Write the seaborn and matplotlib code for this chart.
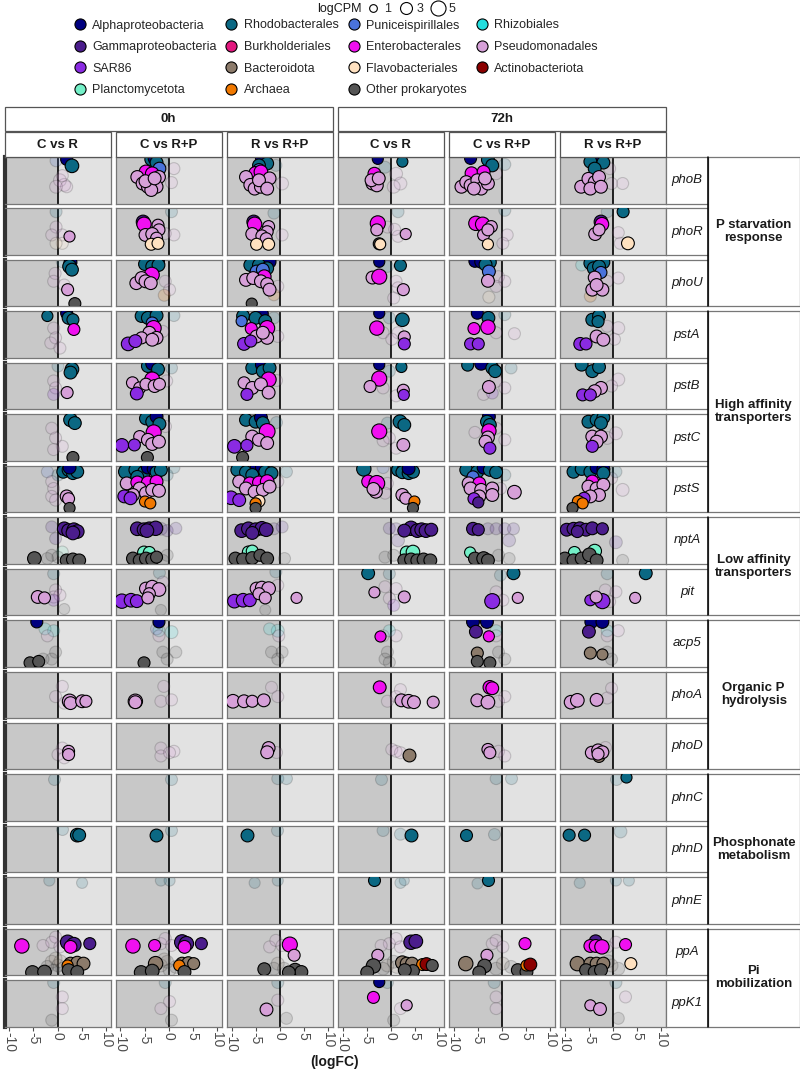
import matplotlib
matplotlib.use("Agg")
import matplotlib.pyplot as plt
import seaborn as sns
import pandas as pd
from matplotlib.patches import Rectangle
from matplotlib.lines import Line2D

# taxonomic groups (code -> legend name) and colours
taxa = {"A": "Alphaproteobacteria", "Rh": "Rhodobacterales", "Pu": "Puniceispirillales",
        "Rz": "Rhizobiales", "G": "Gammaproteobacteria", "B": "Burkholderiales",
        "E": "Enterobacterales", "Ps": "Pseudomonadales", "S": "SAR86",
        "Bd": "Bacteroidota", "F": "Flavobacteriales", "Ac": "Actinobacteriota",
        "Pl": "Planctomycetota", "Ar": "Archaea", "O": "Other prokaryotes"}
colors = {"A": "#00007f", "Rh": "#0b6883", "Pu": "#4a73db", "Rz": "#22dede",
          "G": "#4b1d8c", "B": "#e2177e", "E": "#f010f0", "Ps": "#d6a0d8",
          "S": "#8a2be2", "Bd": "#8c7b6b", "F": "#ffe1c0", "Ac": "#8b0000",
          "Pl": "#74f0c8", "Ar": "#f07800", "O": "#555555"}
legend_order = ["A", "Rh", "Pu", "Rz", "G", "B", "E", "Ps", "S", "Bd", "F", "Ac", "Pl", "Ar", "O"]

times = ["0h", "72h"]
contrasts = ["C vs R", "C vs R+P", "R vs R+P"]
genes = ["phoB", "phoR", "phoU", "pstA", "pstB", "pstC", "pstS", "nptA", "pit",
         "acp5", "phoA", "phoD", "phnC", "phnD", "phnE", "ppA", "ppK1"]
groups = [("P starvation\nresponse", 0, 2), ("High affinity\ntransporters", 3, 6),
          ("Low affinity\ntransporters", 7, 8), ("Organic P\nhydrolysis", 9, 11),
          ("Phosphonate\nmetabolism", 12, 14), ("Pi\nmobilization", 15, 16)]
cpm_legend = [1, 3, 5]

# points: (panel column, taxon, logFC, taxon-jitter y, logCPM, significant)
phoB = [
    (0, "A", 1.9, .05, 3, 1), (0, "Rh", 3.0, .19, 4, 1),
    (0, "Pu", -0.3, .08, 3, 0), (0, "Ps", 0.5, .5, 3.5, 0), (0, "Ps", 1.4, .6, 3.5, 0),
    (0, "Ps", -0.3, .64, 3.5, 0), (0, "Ps", 1.0, .4, 3, 0), (0, "Ps", 1.9, .64, 3, 0),
    (1, "Rh", -3.6, .05, 3.5, 1), (1, "A", -2.9, .03, 3.5, 1), (1, "Rh", -2.5, .12, 3.5, 1),
    (1, "Pu", -1.9, .25, 3.5, 1), (1, "E", -4.7, .32, 4, 1), (1, "E", -3.4, .36, 4, 1),
    (1, "Ps", -6.5, .43, 3.5, 1), (1, "Ps", -5.4, .57, 3.5, 1), (1, "Ps", -4.3, .64, 3.5, 1),
    (1, "Ps", -3.1, .54, 3.5, 1), (1, "Ps", -2.0, .43, 3.5, 1), (1, "Ps", -2.5, .64, 3.5, 1),
    (1, "Ps", -3.6, .71, 3.5, 1), (1, "Ps", -4.8, .52, 3.5, 1), (1, "Ps", -2.9, .46, 3.5, 1),
    (1, "Rh", -1.2, .1, 3, 0), (1, "Ps", 1.1, .25, 3, 0), (1, "Ps", 0.6, .55, 3, 0),
    (2, "A", -3.7, .03, 3.5, 1), (2, "Rh", -2.6, .14, 3.5, 1), (2, "Rh", -4.3, .18, 3.5, 1),
    (2, "Pu", -4.3, .28, 3.5, 1), (2, "E", -5.0, .35, 4, 1), (2, "E", -3.9, .32, 4, 1),
    (2, "Ps", -7.0, .43, 3.5, 1), (2, "Ps", -6.1, .6, 3.5, 1), (2, "Ps", -5.2, .68, 3.5, 1),
    (2, "Ps", -3.9, .64, 3.5, 1), (2, "Ps", -3.0, .54, 3.5, 1), (2, "Ps", -2.1, .46, 3.5, 1),
    (2, "Ps", -4.3, .5, 3.5, 1), (2, "Ps", -2.6, .68, 3.5, 1),
    (2, "Ps", 0.5, .57, 3.5, 0), (2, "Rh", -0.8, .18, 3, 0),
    (3, "A", -2.7, .04, 2.5, 1), (3, "Rh", 2.4, .1, 2.5, 1), (3, "E", -3.4, .36, 3.5, 1),
    (3, "Ps", -3.8, .57, 3.5, 1), (3, "Ps", -2.9, .61, 3.5, 1), (3, "Ps", -4.0, .5, 3.5, 1),
    (3, "Ps", -2.5, .46, 3.5, 1),
    (3, "Rh", -1.2, .22, 3, 0), (3, "Ps", 1.1, .36, 3.5, 0), (3, "Ps", 2.0, .57, 3.5, 0),
    (3, "Ps", 0.6, .64, 3.5, 0),
    (4, "A", -6.5, .03, 3, 1), (4, "Rh", -2.9, .06, 3.5, 1), (4, "Rh", -2.0, .18, 3.5, 1),
    (4, "E", -6.3, .35, 3.5, 1), (4, "E", -3.8, .32, 3.5, 1), (4, "Ps", -8.4, .64, 3.5, 1),
    (4, "Ps", -7.4, .54, 3.5, 1), (4, "Ps", -6.5, .61, 3.5, 1), (4, "Ps", -5.1, .5, 3.5, 1),
    (4, "Ps", -4.3, .68, 3.5, 1), (4, "Ps", -2.9, .57, 3.5, 1), (4, "Ps", -3.5, .46, 3.5, 1),
    (4, "Ps", -5.8, .68, 3.5, 1),
    (4, "Rh", 0.6, .16, 3, 0), (4, "Ps", -1.2, .36, 3, 0),
    (5, "A", -3.4, .05, 3.5, 1), (5, "Rh", -4.7, .1, 3.5, 1), (5, "Rh", -2.0, .12, 3.5, 1),
    (5, "Rh", -3.8, .25, 3.5, 1), (5, "Ps", -6.6, .64, 3.5, 1), (5, "Ps", -5.1, .47, 3.5, 1),
    (5, "Ps", -3.8, .54, 3.5, 1), (5, "Ps", -2.9, .43, 3.5, 1), (5, "Ps", -4.7, .68, 3.5, 1),
    (5, "Ps", -2.5, .64, 3.5, 1),
    (5, "Ps", 2.0, .57, 3, 0), (5, "Ps", -0.7, .25, 3, 0), (5, "Ps", -0.3, .57, 3, 0),
]
phoR = [
    (0, "Ps", 2.3, .6, 2.5, 1),
    (0, "Rh", -0.3, .07, 3, 0), (0, "Ps", -0.3, .4, 3, 0), (0, "Ps", -1.2, .57, 3, 0),
    (0, "Ps", 1.0, .57, 3, 0), (0, "F", 1.0, .75, 3, 0), (0, "F", -0.3, .75, 3, 0),
    (1, "G", -5.3, .29, 4, 1), (1, "E", -5.1, .34, 4.5, 1), (1, "Ps", -2.2, .36, 3, 1),
    (1, "Ps", -2.0, .46, 3, 1), (1, "Ps", -4.8, .57, 3.5, 1), (1, "Ps", -3.4, .55, 3.5, 1),
    (1, "Ps", -2.5, .64, 3, 1), (1, "F", -3.6, .77, 3, 1), (1, "F", -2.2, .75, 3, 1),
    (1, "Rh", 0.6, .07, 3, 0), (1, "Ps", 1.1, .57, 3, 0), (1, "Ps", -0.7, .54, 3, 0),
    (2, "G", -5.4, .29, 4, 1), (2, "E", -5.2, .34, 4.5, 1), (2, "Ps", -2.3, .39, 3, 1),
    (2, "Ps", -2.6, .5, 3, 1), (2, "Ps", -5.7, .55, 3.5, 1), (2, "Ps", -3.7, .59, 3, 1),
    (2, "Ps", -2.8, .65, 3, 1), (2, "F", -4.8, .77, 3, 1), (2, "F", -2.3, .77, 3, 1),
    (2, "Rh", -1.2, .1, 3, 0), (2, "Ps", 0.5, .57, 3, 0),
    (3, "E", -2.7, .32, 5, 1), (3, "Ps", -2.9, .46, 3, 1), (3, "O", -2.4, .76, 3, 1),
    (3, "F", -2.2, .77, 2.5, 1), (3, "Ps", 3.1, .55, 2.5, 1),
    (3, "Rh", 1.5, .07, 3, 0), (3, "Ps", -0.7, .4, 3, 0), (3, "Ps", 1.5, .6, 3, 0),
    (3, "Ps", 0.8, .45, 3, 0),
    (4, "E", -5.4, .32, 4.5, 1), (4, "E", -4.0, .34, 4.5, 1), (4, "Ps", -2.2, .39, 3, 1),
    (4, "Ps", -3.8, .57, 3, 1), (4, "Ps", -2.9, .46, 3, 1), (4, "F", -2.9, .77, 2.5, 1),
    (4, "Rh", 0.6, .04, 3, 0), (4, "Ps", 1.1, .57, 3, 0), (4, "Ps", 0.2, .75, 3, 0),
    (5, "Rh", 2.1, .07, 3, 1), (5, "G", -2.5, .29, 4, 1), (5, "E", -2.3, .34, 4, 1),
    (5, "Ps", -3.7, .55, 3.5, 1), (5, "Ps", -2.9, .46, 3, 1), (5, "F", 3.1, .75, 3.5, 1),
    (5, "Rh", -1.2, .07, 3, 0), (5, "Ps", 1.1, .52, 3, 0), (5, "Ps", 1.5, .75, 3, 0),
]
phoU = [
    (0, "A", 2.7, .05, 3.5, 1), (0, "Rh", 2.5, .14, 4, 1), (0, "Rh", 3.0, .21, 3.5, 1),
    (0, "Ps", 2.1, .64, 3, 1), (0, "O", 3.6, .94, 3, 1),
    (0, "Rh", 1.0, .04, 3, 0), (0, "Ps", -0.5, .29, 3, 0), (0, "Ps", -0.8, .46, 3, 0),
    (0, "Ps", 1.4, .54, 3, 0),
    (1, "Rh", -4.9, .09, 3.5, 1), (1, "A", -2.2, .04, 3.5, 1), (1, "Rh", -3.4, .14, 3.5, 1),
    (1, "Rh", -2.1, .11, 3.5, 1), (1, "E", -3.5, .32, 5, 1), (1, "Ps", -6.7, .5, 3.5, 1),
    (1, "Ps", -5.6, .39, 3.5, 1), (1, "Ps", -4.8, .46, 3.5, 1), (1, "Ps", -3.7, .5, 3.5, 1),
    (1, "Ps", 0.2, .64, 3, 0), (1, "Ps", -0.7, .46, 3, 0), (1, "Ar", -0.9, .76, 3, 0),
    (2, "A", -5.2, .04, 3.5, 1), (2, "A", -2.1, .04, 3.5, 1), (2, "Rh", -6.1, .11, 3.5, 1),
    (2, "Rh", -4.3, .11, 3.5, 1), (2, "Rh", -2.6, .18, 3.5, 1), (2, "Pu", -4.8, .25, 3.5, 1),
    (2, "Pu", -3.5, .21, 3.5, 1), (2, "E", -3.2, .36, 4, 1), (2, "Ps", -7.0, .43, 3.5, 1),
    (2, "Ps", -5.5, .39, 3.5, 1), (2, "Ps", -3.9, .46, 3.5, 1), (2, "Ps", -2.6, .52, 3.5, 1),
    (2, "Ps", -2.1, .64, 3.5, 1), (2, "O", -5.8, .94, 2.5, 1),
    (2, "Ps", -0.4, .57, 3, 0), (2, "Ar", -1.2, .75, 3, 0),
    (3, "A", -2.4, .04, 2.5, 1), (3, "Rh", 2.0, .12, 3, 1), (3, "Ps", -3.8, .38, 3.5, 1),
    (3, "E", -2.4, .36, 5, 1), (3, "Ps", 2.6, .64, 3, 1),
    (3, "Rh", -0.7, .14, 3, 0), (3, "Ps", 1.1, .46, 3, 0), (3, "Ps", 1.5, .6, 3, 0),
    (3, "Ps", 0.6, .82, 3, 0),
    (4, "A", -5.6, .03, 3, 1), (4, "A", -4.3, .04, 3.5, 1), (4, "Rh", -2.5, .05, 3.5, 1),
    (4, "Rh", -3.4, .1, 3.5, 1), (4, "Pu", -2.7, .25, 3.5, 1), (4, "Ps", -2.9, .45, 3.5, 1),
    (4, "Ps", -0.7, .36, 3, 0), (4, "Ps", 0.6, .46, 3, 0), (4, "Ps", -1.2, .57, 3, 0),
    (4, "F", -2.7, .8, 3, 0),
    (5, "A", -3.4, .03, 3.5, 1), (5, "Rh", -4.7, .07, 3.5, 1), (5, "Rh", -2.0, .05, 3.5, 1),
    (5, "Rh", -4.0, .18, 3.5, 1), (5, "Rh", -2.9, .14, 3.5, 1), (5, "Pu", -2.5, .27, 3, 1),
    (5, "Ps", -3.8, .38, 3.5, 1), (5, "Ps", -4.3, .64, 3.5, 1), (5, "Ps", -2.2, .64, 3.5, 1),
    (5, "Ps", -3.4, .54, 3.5, 1),
    (5, "Rz", -6.5, .11, 3, 0), (5, "Ps", 1.1, .39, 3, 0), (5, "Ps", -1.2, .46, 3, 0),
    (5, "Ar", -4.7, .78, 3, 0),
]
pstA = [
    (0, "Rh", -2.1, .1, 2.5, 1), (0, "A", 1.9, .04, 3, 1), (0, "Rh", 2.3, .14, 3.5, 1),
    (0, "Rh", 3.2, .18, 3, 1), (0, "E", 3.4, .39, 3, 1),
    (0, "Ps", -0.8, .36, 3, 0), (0, "Ps", -1.4, .68, 3, 0), (0, "Ps", -0.4, .57, 3, 0),
    (0, "Ps", 0.5, .79, 3, 0),
    (1, "Rh", -5.6, .1, 3.5, 1), (1, "A", -3.4, .05, 3.5, 1), (1, "Rh", -4.3, .14, 3.5, 1),
    (1, "Rh", -2.5, .09, 3.5, 1), (1, "Pu", -3.4, .25, 3, 1), (1, "E", -3.1, .36, 5, 1),
    (1, "Ps", -4.0, .46, 3.5, 1), (1, "Ps", -2.5, .57, 3.5, 1), (1, "Ps", -5.6, .57, 3, 1),
    (1, "Ps", -3.4, .61, 3.5, 1), (1, "S", -8.4, .7, 4, 1), (1, "S", -6.9, .64, 3.5, 1),
    (1, "Rh", 1.1, .09, 3, 0), (1, "Ps", -1.2, .43, 3, 0),
    (2, "Rh", -7.6, .1, 3.5, 1), (2, "A", -3.7, .05, 3.5, 1), (2, "Rh", -5.0, .14, 3.5, 1),
    (2, "Rh", -3.0, .21, 3.5, 1), (2, "Pu", -7.9, .21, 2.5, 1), (2, "E", -5.9, .37, 3, 1),
    (2, "E", -2.6, .36, 5, 1), (2, "Ps", -4.8, .54, 3.5, 1), (2, "Ps", -2.6, .57, 3.5, 1),
    (2, "Ps", -3.5, .46, 3.5, 1), (2, "S", -7.4, .7, 3.5, 1), (2, "S", -6.0, .64, 3, 1),
    (2, "Rh", -1.2, .14, 3, 0), (2, "Ps", -0.4, .54, 3, 0),
    (3, "A", -2.4, .04, 2.5, 1), (3, "Rh", 2.4, .18, 4, 1), (3, "E", -2.9, .36, 4.5, 1),
    (3, "Ps", 2.8, .55, 3, 1), (3, "S", 2.8, .7, 3, 1),
    (3, "Rh", -0.3, .14, 3, 0), (3, "Ps", -1.6, .46, 3, 0), (3, "Ps", 1.5, .46, 3, 0),
    (3, "Ps", 0.2, .6, 3, 0),
    (4, "A", -5.1, .04, 3, 1), (4, "Rh", -2.8, .14, 3.5, 1), (4, "E", -5.8, .37, 3, 1),
    (4, "E", -2.9, .34, 4.5, 1), (4, "S", -6.5, .7, 3, 1), (4, "S", -4.9, .7, 3, 1),
    (4, "Ps", 2.6, .48, 3, 0), (4, "Ps", -1.2, .46, 3, 0), (4, "Rh", 0.6, .07, 3, 0),
    (5, "Rh", -4.3, .18, 3.5, 1), (5, "Rh", -2.9, .1, 3.5, 1), (5, "Rh", -3.1, .22, 3, 1),
    (5, "Ps", -3.4, .54, 3.5, 1), (5, "Ps", -2.0, .61, 3.5, 1), (5, "S", -6.8, .7, 3.5, 1),
    (5, "S", -5.6, .7, 3, 1),
    (5, "Ps", 1.1, .36, 3.5, 0), (5, "Ps", -1.2, .32, 3, 0), (5, "Ps", 0.3, .6, 3, 0),
]
pstB = [
    (0, "Rh", 3.0, .14, 4, 1), (0, "Rh", 2.7, .21, 3.5, 1), (0, "Ps", 2.0, .64, 3, 1),
    (0, "Rh", 0.1, .07, 3, 0), (0, "Ps", -0.8, .39, 3, 0), (0, "Ps", -0.4, .54, 3, 0),
    (0, "S", -0.8, .68, 3, 0),
    (1, "Rh", -4.3, .07, 3.5, 1), (1, "A", -3.4, .02, 3.5, 1), (1, "Rh", -2.2, .14, 3.5, 1),
    (1, "E", -3.4, .36, 5, 1), (1, "Ps", -7.5, .43, 3, 1), (1, "Ps", -6.0, .54, 3, 1),
    (1, "Ps", -4.7, .46, 3, 1), (1, "Ps", -2.9, .5, 3.5, 1), (1, "Ps", -1.9, .46, 3, 1),
    (1, "S", -6.6, .66, 3.5, 1),
    (1, "Rh", 0.6, .11, 3, 0), (1, "Ps", -0.4, .39, 3, 0),
    (2, "Rh", -5.7, .11, 3.5, 1), (2, "A", -3.7, .04, 3.5, 1), (2, "Rh", -3.5, .18, 3.5, 1),
    (2, "Rh", -2.1, .11, 3.5, 1), (2, "E", -2.3, .36, 5, 1), (2, "Ps", -7.4, .43, 3, 1),
    (2, "Ps", -5.7, .54, 3.5, 1), (2, "Ps", -3.9, .46, 3.5, 1), (2, "Ps", -2.3, .64, 3.5, 1),
    (2, "S", -6.8, .68, 3, 1),
    (2, "Ps", -0.8, .36, 3, 0),
    (3, "A", -2.4, .04, 2.5, 1), (3, "Rh", 2.2, .09, 2.5, 1), (3, "E", -2.4, .34, 5, 1),
    (3, "Ps", -4.3, .51, 3, 1), (3, "Ps", 2.6, .59, 3, 1), (3, "S", 2.7, .69, 2.5, 1),
    (3, "Rh", -0.3, .18, 3, 0), (3, "Ps", -1.6, .54, 3, 0), (3, "Ps", 1.1, .71, 3, 0),
    (4, "Rh", -7.1, .05, 3, 1), (4, "A", -4.3, .02, 3.5, 1), (4, "Rh", -2.0, .11, 3.5, 1),
    (4, "Rh", -1.4, .18, 3.5, 1), (4, "Ps", -2.7, .52, 3.5, 1),
    (4, "Ps", -1.2, .39, 3.5, 0), (4, "Ps", -3.8, .68, 3, 0), (4, "Ps", 0.6, .54, 3, 0),
    (4, "Rh", 1.9, .11, 3, 0), (4, "S", -2.0, .65, 3, 0),
    (5, "Rh", -6.5, .04, 3.5, 1), (5, "Rh", -4.3, .18, 3.5, 1), (5, "Rh", -2.9, .09, 3.5, 1),
    (5, "Ps", -2.5, .54, 3.5, 1), (5, "Ps", -3.8, .61, 3.5, 1), (5, "S", -6.3, .69, 3, 1),
    (5, "S", -4.7, .69, 3, 1),
    (5, "Ps", 1.1, .36, 3.5, 0), (5, "Ps", -0.3, .5, 3, 0),
]
pstC = [
    (0, "Rh", 2.7, .12, 4, 1), (0, "Rh", 3.6, .19, 3.5, 1), (0, "O", 3.2, .93, 3, 1),
    (0, "Ps", -1.2, .3, 3, 0), (0, "Ps", -0.4, .51, 3, 0), (0, "Ps", 1.0, .69, 3, 0),
    (0, "Ps", -0.8, .76, 3, 0),
    (1, "Rh", -4.7, .09, 3.5, 1), (1, "Rh", -3.4, .16, 3.5, 1), (1, "A", -2.5, .05, 3.5, 1),
    (1, "Rh", -1.9, .21, 3.5, 1), (1, "E", -3.1, .39, 5, 1), (1, "Ps", -6.0, .48, 3, 1),
    (1, "Ps", -4.3, .55, 3.5, 1), (1, "Ps", -3.4, .64, 3.5, 1), (1, "Ps", -2.0, .59, 3.5, 1),
    (1, "S", -9.7, .67, 4, 1), (1, "S", -7.1, .66, 3, 1), (1, "O", -4.4, .93, 3, 1),
    (1, "Ps", -0.7, .26, 3, 0),
    (2, "Rh", -7.0, .12, 3.5, 1), (2, "Rh", -5.0, .16, 3.5, 1), (2, "A", -3.9, .07, 3.5, 1),
    (2, "Rh", -3.5, .19, 3.5, 1), (2, "E", -2.6, .37, 5.5, 1), (2, "Ps", -5.7, .48, 3.5, 1),
    (2, "Ps", -4.3, .55, 3.5, 1), (2, "Ps", -2.6, .62, 3.5, 1), (2, "S", -9.4, .69, 4, 1),
    (2, "S", -6.8, .67, 3, 1), (2, "O", -7.7, .93, 3, 1),
    (2, "Rh", -0.8, .16, 3, 0),
    (3, "Rh", 1.9, .16, 4, 1), (3, "Rh", 2.8, .23, 3.5, 1), (3, "E", -2.4, .37, 5, 1),
    (3, "Ps", 2.6, .66, 3.5, 1),
    (3, "Rh", -0.7, .19, 3, 0), (3, "Ps", -0.3, .51, 3, 0), (3, "Ps", 1.1, .73, 3, 0),
    (3, "Ps", -1.6, .57, 3, 0),
    (4, "A", -2.7, .05, 3.5, 1), (4, "Rh", -3.1, .16, 3.5, 1), (4, "Rh", -2.5, .23, 3.5, 1),
    (4, "E", -2.7, .36, 4.5, 1), (4, "Ps", -2.9, .5, 3.5, 1), (4, "Ps", -3.4, .59, 3.5, 1),
    (4, "S", -2.5, .73, 3, 1),
    (4, "Ps", -1.2, .3, 3, 0), (4, "Ps", 0.6, .55, 3, 0), (4, "Ps", -5.6, .39, 3, 0),
    (5, "Rh", -5.1, .16, 3.5, 1), (5, "Rh", -3.4, .12, 3.5, 1), (5, "Rh", -2.0, .07, 3.5, 1),
    (5, "Rh", -2.5, .19, 3.5, 1), (5, "Ps", -4.3, .48, 3.5, 1), (5, "Ps", -2.5, .48, 3.5, 1),
    (5, "Ps", -3.4, .59, 3.5, 1), (5, "S", -4.3, .69, 3, 1),
    (5, "Ps", -1.2, .51, 3.5, 0), (5, "Ps", 0.6, .41, 3.5, 0),
]
pstS = [
    (0, "A", 1.4, .04, 3.5, 1), (0, "Rh", 1.2, .13, 3.5, 1), (0, "Rh", 2.3, .09, 3.5, 1),
    (0, "Rh", 3.2, .16, 3.5, 1), (0, "Rh", 4.1, .13, 3.5, 1), (0, "A", 2.5, .04, 3.5, 1),
    (0, "Ps", 1.9, .66, 3.5, 1), (0, "Ps", 2.3, .71, 3, 1), (0, "O", 2.5, .91, 2.5, 1),
    (0, "Pu", -2.1, .13, 3, 0), (0, "Ps", -1.2, .34, 3, 0), (0, "Ps", -0.8, .49, 3, 0),
    (0, "Ps", -1.2, .66, 3, 0), (0, "Ps", -0.4, .74, 3, 0), (0, "Rh", 0.1, .2, 3, 0),
    (1, "Rh", -8.9, .13, 4.5, 1), (1, "Rh", -6.9, .09, 3.5, 1), (1, "Rh", -5.1, .14, 3.5, 1),
    (1, "A", -4.3, .04, 3.5, 1), (1, "A", -3.1, .07, 3.5, 1), (1, "Rh", -2.5, .14, 3.5, 1),
    (1, "Rh", -1.6, .09, 3.5, 1), (1, "Rh", -6.5, .24, 3.5, 1), (1, "Ps", -8.7, .38, 3.5, 1),
    (1, "E", -6.5, .36, 3.5, 1), (1, "E", -4.3, .36, 3.5, 1), (1, "E", -2.5, .34, 3.5, 1),
    (1, "Ps", -6.0, .49, 3.5, 1), (1, "Ps", -4.7, .59, 3.5, 1), (1, "Ps", -3.4, .52, 3.5, 1),
    (1, "Ps", -2.0, .54, 3.5, 1), (1, "Ps", -7.4, .63, 3.5, 1), (1, "S", -9.2, .66, 3.5, 1),
    (1, "S", -7.9, .7, 3.5, 1), (1, "Ar", -4.9, .77, 2.5, 1), (1, "Ar", -3.8, .81, 2.5, 1),
    (1, "Rh", 1.1, .04, 3, 0), (1, "Rh", -0.3, .2, 3, 0),
    (2, "Rh", -8.8, .09, 3.5, 1), (2, "Rh", -7.0, .14, 3.5, 1), (2, "A", -4.8, .06, 3.5, 1),
    (2, "A", -3.7, .04, 3.5, 1), (2, "Rh", -3.0, .13, 3.5, 1), (2, "Rh", -1.7, .16, 3.5, 1),
    (2, "Rh", -5.7, .2, 3.5, 1), (2, "Ps", -8.4, .34, 3.5, 1), (2, "E", -6.2, .38, 3.5, 1),
    (2, "E", -4.3, .36, 3.5, 1), (2, "E", -2.6, .34, 4, 1), (2, "Ps", -7.0, .49, 3.5, 1),
    (2, "Ps", -5.2, .56, 3.5, 1), (2, "Ps", -3.5, .52, 3.5, 1), (2, "Ps", -2.1, .45, 3.5, 1),
    (2, "S", -10.1, .69, 4, 1), (2, "S", -8.4, .74, 3.5, 1), (2, "F", -4.3, .76, 3, 1),
    (2, "Ar", -5.0, .81, 2.5, 1), (2, "O", -5.0, .91, 2.5, 1),
    (2, "Rh", 1.4, .13, 3, 0), (2, "Ps", -0.4, .34, 3, 0),
    (3, "Rh", -5.6, .07, 4.5, 1), (3, "Rh", 1.5, .09, 3.5, 1), (3, "A", 2.8, .04, 3.5, 1),
    (3, "Rh", 2.4, .14, 3.5, 1), (3, "Rh", 3.7, .16, 3.5, 1), (3, "Rh", 4.6, .13, 3.5, 1),
    (3, "A", 3.7, .06, 3.5, 1), (3, "E", -4.7, .34, 3.5, 1), (3, "E", -2.9, .38, 5.5, 1),
    (3, "Ps", -3.1, .56, 3.5, 1), (3, "Ps", -3.6, .5, 3.5, 1), (3, "Ps", 2.4, .63, 3.5, 1),
    (3, "Ps", 3.1, .7, 3, 1), (3, "Ar", 4.9, .77, 2.5, 1), (3, "O", 4.6, .91, 2.5, 1),
    (3, "Pu", -1.6, .04, 3, 0), (3, "Ps", -0.7, .38, 3, 0), (3, "Ps", -1.2, .59, 3, 0),
    (4, "Rh", -7.4, .09, 3.5, 1), (4, "Rh", -5.1, .13, 3.5, 1), (4, "A", -3.8, .04, 3.5, 1),
    (4, "Rh", -2.5, .09, 3.5, 1), (4, "Rh", -1.2, .14, 3.5, 1), (4, "Pu", -6.0, .24, 3, 1),
    (4, "Ps", -6.9, .38, 3.5, 1), (4, "E", -4.7, .38, 3.5, 1), (4, "Ps", -6.5, .49, 3.5, 1),
    (4, "Ps", -4.3, .52, 3.5, 1), (4, "Ps", -2.0, .49, 3.5, 1), (4, "Ps", -4.7, .66, 3.5, 1),
    (4, "Ps", -2.0, .63, 3.5, 1), (4, "Ps", 2.6, .57, 4, 1), (4, "S", -5.8, .71, 3, 1),
    (4, "G", -4.9, .79, 2.5, 1),
    (4, "Rh", 0.6, .2, 3, 0), (4, "Ps", -0.3, .49, 3, 0),
    (5, "Rh", -8.2, .13, 3.5, 1), (5, "Rh", -6.5, .07, 3.5, 1), (5, "Rh", -4.7, .13, 3.5, 1),
    (5, "A", -3.4, .04, 3.5, 1), (5, "A", -2.0, .07, 3.5, 1), (5, "Rh", -2.0, .16, 3.5, 1),
    (5, "E", -4.3, .34, 3.5, 1), (5, "Ps", -5.1, .45, 3.5, 1), (5, "Ps", -3.4, .49, 3.5, 1),
    (5, "Ps", -2.0, .41, 3.5, 1), (5, "Ps", -2.9, .63, 3.5, 1), (5, "Ps", -4.7, .66, 3.5, 1),
    (5, "S", -6.0, .7, 3, 1), (5, "Ar", -7.2, .77, 3, 1), (5, "Ar", -6.3, .81, 2.5, 1),
    (5, "O", -8.4, .91, 2.5, 1),
    (5, "Ps", 2.0, .52, 3.5, 0), (5, "Ps", -0.3, .27, 3, 0), (5, "Rh", 0.6, .13, 3, 0),
]
nptA = [
    (0, "G", 1.4, .25, 4, 1), (0, "G", 2.3, .29, 4, 1), (0, "G", 3.4, .27, 4, 1),
    (0, "G", 4.1, .31, 4, 1), (0, "G", 3.2, .34, 4, 1), (0, "O", -4.8, .89, 4, 1),
    (0, "O", 1.9, .93, 3.5, 1), (0, "O", 3.2, .91, 3.5, 1), (0, "O", 4.5, .93, 3.5, 1),
    (0, "G", -1.2, .21, 3, 0), (0, "G", -0.4, .46, 3, 0), (0, "Pl", 1.0, .75, 3, 0),
    (0, "O", -1.2, .82, 3, 0), (0, "O", 0.1, .86, 3, 0), (0, "O", -2.1, .89, 3, 0),
    (1, "G", -6.5, .25, 4, 1), (1, "G", -5.1, .27, 4, 1), (1, "G", -4.0, .25, 4, 1),
    (1, "G", -2.7, .24, 4.5, 1), (1, "G", -4.5, .29, 4, 1), (1, "Pl", -5.1, .76, 3.5, 1),
    (1, "Pl", -4.0, .76, 3, 1), (1, "O", -7.4, .89, 3.5, 1), (1, "O", -6.0, .93, 3.5, 1),
    (1, "O", -4.7, .89, 3.5, 1), (1, "O", -3.4, .91, 3.5, 1), (1, "O", -2.5, .86, 3, 1),
    (1, "G", -1.6, .25, 3.5, 0), (1, "G", -0.3, .29, 3, 0), (1, "G", 1.5, .24, 3, 0),
    (1, "O", -0.3, .82, 3, 0), (1, "O", -1.2, .93, 3, 0),
    (2, "G", -7.9, .29, 4, 1), (2, "G", -6.5, .25, 4, 1), (2, "G", -5.0, .27, 4, 1),
    (2, "G", -3.7, .24, 4, 1), (2, "G", -2.8, .27, 4, 1), (2, "G", -5.7, .34, 3.5, 1),
    (2, "Pl", -6.5, .75, 3, 1), (2, "Pl", -5.7, .73, 3, 1), (2, "O", -9.2, .89, 3.5, 1),
    (2, "O", -7.6, .91, 3.5, 1), (2, "O", -5.7, .88, 3.5, 1), (2, "O", -4.1, .82, 3, 1),
    (2, "O", -2.6, .89, 3.5, 1),
    (2, "G", -1.2, .25, 3, 0), (2, "G", 0.5, .21, 3, 0), (2, "O", 1.0, .89, 3, 0),
    (3, "G", 4.2, .24, 4.5, 1), (3, "G", 5.5, .29, 4, 1), (3, "G", 6.4, .27, 4, 1),
    (3, "G", 7.3, .29, 4, 1), (3, "G", 8.4, .27, 3.5, 1), (3, "G", 2.8, .29, 3.5, 1),
    (3, "Pl", 3.3, .76, 3.5, 1), (3, "Pl", 4.6, .75, 4, 1), (3, "O", 2.8, .93, 3.5, 1),
    (3, "O", 4.2, .91, 3.5, 1), (3, "O", 5.5, .93, 3.5, 1), (3, "O", 6.8, .91, 3.5, 1),
    (3, "O", 8.2, .93, 3.5, 1),
    (3, "G", -0.3, .24, 3, 0), (3, "G", 1.1, .25, 3, 0), (3, "G", 1.5, .5, 3.5, 0),
    (3, "O", -1.2, .86, 3, 0), (3, "O", 0.6, .82, 3, 0),
    (4, "G", -6.0, .25, 3.5, 1), (4, "G", -4.9, .27, 3, 1), (4, "Pl", -6.6, .76, 2.5, 1),
    (4, "O", -5.6, .89, 3.5, 1), (4, "O", -3.8, .89, 4, 1), (4, "O", -2.9, .93, 3.5, 1),
    (4, "G", -2.9, .25, 3, 0), (4, "G", -1.2, .25, 3, 0), (4, "G", 0.6, .25, 3, 0),
    (4, "G", 2.4, .25, 3, 0), (4, "G", 1.5, .5, 3.5, 0), (4, "O", -0.7, .82, 3, 0),
    (4, "O", 1.5, .89, 3, 0),
    (5, "G", -9.6, .27, 3.5, 1), (5, "G", -8.2, .25, 3.5, 1), (5, "G", -6.9, .24, 3.5, 1),
    (5, "G", -5.6, .27, 3.5, 1), (5, "G", -4.3, .24, 3.5, 1), (5, "G", -2.2, .25, 3, 1),
    (5, "G", -7.4, .31, 3, 1), (5, "Pl", -8.0, .76, 3, 1), (5, "Pl", -3.8, .73, 4, 1),
    (5, "O", -10.0, .89, 3.5, 1), (5, "O", -8.2, .93, 3.5, 1), (5, "O", -6.5, .89, 3.5, 1),
    (5, "O", -4.9, .81, 4, 1), (5, "O", -3.4, .93, 3.5, 1),
    (5, "G", 0.6, .54, 3.5, 0), (5, "O", 2.0, .93, 3, 0),
]
pit = [
    (0, "Ps", -4.1, .61, 3.5, 1), (0, "Ps", -2.7, .63, 3, 1),
    (0, "Rh", -0.8, .11, 3, 0), (0, "Ps", -0.4, .46, 3, 0), (0, "Ps", -0.8, .61, 3, 0),
    (0, "Ps", 0.5, .57, 3, 0), (0, "S", -0.8, .68, 3, 0), (0, "O", 1.4, .87, 2.5, 0),
    (1, "S", -9.7, .7, 4.5, 1), (1, "S", -7.8, .68, 4, 1), (1, "S", -6.6, .7, 3.5, 1),
    (1, "Ps", -4.7, .43, 3.5, 1), (1, "Ps", -3.4, .39, 3.5, 1), (1, "Ps", -2.0, .45, 4, 1),
    (1, "Ps", -4.0, .54, 3, 1), (1, "Ps", -4.3, .63, 3, 1),
    (1, "Rh", -1.9, .09, 3, 0), (1, "Ps", -1.2, .29, 3, 0), (1, "O", -1.6, .89, 2.5, 0),
    (2, "S", -9.4, .7, 4, 1), (2, "S", -7.6, .68, 4, 1), (2, "S", -6.2, .68, 3.5, 1),
    (2, "Ps", -4.8, .43, 3.5, 1), (2, "Ps", -3.7, .41, 3.5, 1), (2, "Ps", -2.3, .43, 4, 1),
    (2, "Ps", -4.3, .54, 3, 1), (2, "Ps", -3.0, .63, 3, 1), (2, "Ps", 3.5, .63, 2.5, 1),
    (2, "Rh", -0.8, .07, 3, 0), (2, "O", -3.0, .89, 2.5, 0), (2, "Ps", -0.4, .36, 3, 0),
    (3, "Rh", -4.7, .1, 3.5, 1), (3, "Ps", -3.4, .51, 2.5, 1), (3, "Ps", 2.8, .61, 3, 1),
    (3, "Rh", -0.3, .11, 3, 0), (3, "Ps", -1.2, .39, 3, 0), (3, "Ps", 1.1, .43, 3, 0),
    (3, "Ps", -0.3, .64, 3, 0), (3, "S", 0.6, .79, 3, 0),
    (4, "Rh", 2.4, .1, 3.5, 1), (4, "S", -2.0, .7, 5, 1), (4, "Ps", 3.3, .63, 2.5, 1),
    (4, "Rh", -0.3, .14, 3, 0), (4, "Ps", -1.2, .5, 3, 0), (4, "Ps", 0.2, .68, 3, 0),
    (5, "Rh", 6.8, .1, 3.5, 1), (5, "S", -4.7, .68, 2.5, 1), (5, "S", -2.2, .7, 5, 1),
    (5, "Ps", -3.5, .61, 3, 1), (5, "Ps", 4.6, .63, 2.5, 1),
    (5, "Rh", -1.2, .11, 3, 0), (5, "Ps", -1.6, .46, 3, 0), (5, "Ps", 0.6, .5, 3, 0),
    (5, "Ps", -0.7, .71, 3, 0),
]
acp5 = [
    (0, "A", -4.3, .04, 3, 1), (0, "O", -5.7, .92, 3, 1), (0, "O", -3.9, .89, 3, 1),
    (0, "Rz", -0.8, .23, 3, 0), (0, "Rz", -2.6, .19, 3, 0), (0, "Ps", -2.1, .34, 3, 0),
    (0, "O", -0.4, .69, 3, 0), (0, "O", -1.2, .84, 3, 0), (0, "O", -3.0, .84, 3, 0),
    (1, "A", -2.0, .04, 3, 1), (1, "O", -5.1, .92, 3, 1),
    (1, "Rz", -2.0, .23, 3, 0), (1, "Pu", -2.5, .19, 3, 0), (1, "Ps", -2.0, .34, 3, 0),
    (1, "Rz", 0.6, .26, 3.5, 0), (1, "O", -1.2, .69, 3, 0), (1, "O", 1.5, .69, 3, 0),
    (1, "O", -0.3, .84, 3, 0),
    (2, "Rz", -0.4, .23, 3.5, 0), (2, "Rz", -2.1, .19, 3, 0), (2, "Ps", -0.2, .34, 3, 0),
    (2, "O", -1.7, .69, 3, 0), (2, "O", 0.5, .69, 3, 0), (2, "O", -0.4, .84, 3, 0),
    (3, "E", -2.2, .34, 2.5, 1),
    (3, "Rz", -0.3, .23, 3, 0), (3, "Ps", -1.6, .34, 3, 0), (3, "Ps", 1.1, .34, 3, 0),
    (3, "O", -0.7, .69, 3, 0), (3, "O", -1.2, .84, 3, 0), (3, "O", -0.3, .91, 3, 0),
    (4, "A", -6.0, .04, 3.5, 1), (4, "A", -3.1, .04, 3.5, 1), (4, "G", -5.4, .25, 3.5, 1),
    (4, "E", -2.7, .35, 2.5, 1), (4, "Bd", -5.1, .71, 3, 1), (4, "O", -5.1, .89, 3, 1),
    (4, "O", -2.5, .92, 3, 1),
    (4, "Rz", -1.2, .23, 3, 0), (4, "Ps", -1.2, .34, 3, 0), (4, "O", 0.6, .84, 3, 0),
    (4, "O", -0.7, .69, 3, 0),
    (5, "A", -4.5, .04, 3.5, 1), (5, "A", -2.2, .04, 3.5, 1), (5, "G", -5.0, .25, 3.5, 1),
    (5, "Bd", -4.7, .71, 3, 1), (5, "Bd", -2.2, .74, 2.5, 1),
    (5, "Rz", -1.2, .23, 3, 0), (5, "Ps", -1.2, .34, 3, 0), (5, "Ps", 1.1, .23, 3, 0),
    (5, "O", -1.2, .69, 3, 0), (5, "O", -0.3, .84, 3, 0),
]
phoA = [
    (0, "Ps", 2.5, .64, 4.5, 1), (0, "Ps", 2.7, .68, 3.5, 1), (0, "Ps", 5.1, .64, 3.5, 1),
    (0, "Ps", 5.9, .64, 3, 1),
    (0, "Ps", 1.0, .32, 3, 0), (0, "Ps", -0.4, .54, 3, 0), (0, "Ps", 1.4, .68, 3, 0),
    (1, "Ps", -6.9, .64, 4.5, 1), (1, "Ps", -6.9, .66, 3.5, 1),
    (1, "Ps", -1.0, .32, 3, 0), (1, "Ps", -1.6, .64, 3, 0), (1, "Ps", 0.6, .61, 3, 0),
    (2, "Ps", -9.7, .64, 4, 1), (2, "Ps", -7.4, .64, 3.5, 1), (2, "Ps", -5.7, .64, 3, 1),
    (2, "Ps", -3.3, .62, 3.5, 1),
    (2, "Ps", -1.7, .34, 3, 0), (2, "Ps", -0.4, .54, 3, 0),
    (3, "E", -2.3, .34, 3.5, 1), (3, "Ps", 2.2, .62, 3.5, 1), (3, "Ps", 3.7, .64, 4, 1),
    (3, "Ps", 4.8, .66, 3.5, 1), (3, "Ps", 8.8, .66, 3, 1),
    (3, "Ps", 1.1, .54, 3, 0), (3, "Ps", -0.7, .64, 3, 0), (3, "Ps", 2.0, .39, 3, 0),
    (4, "E", -2.5, .34, 4, 1), (4, "E", -2.0, .36, 3.5, 1), (4, "Ps", -5.1, .62, 3.5, 1),
    (4, "Ps", -2.9, .66, 4, 1),
    (4, "Ps", 0.6, .54, 3, 0), (4, "Ps", -0.7, .64, 3, 0),
    (5, "Ps", -8.7, .66, 4, 1), (5, "Ps", -7.4, .62, 4, 1), (5, "Ps", -3.4, .61, 3.5, 1),
    (5, "Ps", -0.3, .36, 3, 0), (5, "Ps", -1.2, .57, 3, 0),
]
phoD = [
    (0, "Ps", 2.3, .61, 3, 1), (0, "Ps", 2.3, .68, 3, 1),
    (0, "Ps", 1.0, .54, 3, 0), (0, "Ps", 0.1, .68, 3, 0), (0, "Ps", 1.4, .75, 3, 0),
    (1, "Ps", -1.6, .54, 3, 0), (1, "Ps", 1.1, .61, 3, 0), (1, "Ps", -1.6, .71, 3, 0),
    (1, "Ps", 0.2, .64, 3, 0),
    (2, "Ps", -2.3, .54, 3.5, 1), (2, "Ps", -2.6, .63, 3.5, 1),
    (2, "Ps", -0.8, .63, 3, 0),
    (3, "Bd", 3.7, .69, 3.5, 1),
    (3, "Ps", 1.1, .61, 3, 0), (3, "Ps", 0.2, .57, 3, 0), (3, "Ps", 2.0, .64, 3, 0),
    (4, "Ps", -2.9, .57, 3, 1), (4, "Ps", -2.5, .64, 3, 1),
    (4, "Ps", -0.7, .61, 3, 0), (4, "Ps", 0.6, .71, 3, 0),
    (5, "Bd", -2.9, .72, 3, 1), (5, "Ps", -4.4, .64, 3.5, 1), (5, "Ps", -3.1, .59, 3.5, 1),
    (5, "Ps", -2.2, .63, 3.5, 1), (5, "Ps", -3.1, .67, 3, 1),
    (5, "Ps", -1.6, .51, 3, 0),
]
phnC = [
    (0, "Rh", -0.8, .09, 3, 0),
    (1, "Rh", 0.6, .09, 3, 0),
    (2, "Rh", -0.4, .09, 3, 0), (2, "Rh", 1.4, .09, 3, 0),
    (3, "Rh", -2.0, .09, 3, 0),
    (4, "Rh", -1.2, .09, 3, 0), (4, "Rh", 2.0, .09, 3, 0),
    (5, "Rh", 2.6, .06, 2.5, 1),
    (5, "Rh", 0.6, .09, 3, 0),
]
phnD = [
    (0, "Rh", 4.1, .2, 4, 1), (0, "Rh", 4.5, .2, 3.5, 1),
    (0, "Rh", 1.0, .06, 3, 0),
    (1, "Rh", -2.7, .2, 3.5, 1),
    (1, "Rh", 0.4, .08, 3, 0),
    (2, "Rh", -6.7, .2, 3.5, 1),
    (2, "Rh", -0.5, .08, 3, 0),
    (3, "Rh", 4.2, .2, 3.5, 1),
    (3, "Rh", -1.6, .1, 3, 0), (3, "Rh", 2.0, .18, 3, 0),
    (4, "Rh", -7.4, .2, 3, 1),
    (4, "Rh", -1.6, .18, 3, 0),
    (5, "Rh", -9.1, .2, 3, 1), (5, "Rh", -5.9, .2, 3, 1),
    (5, "Rh", 1.5, .1, 3.5, 0),
]
phnE = [
    (0, "Rh", -1.7, .07, 2.5, 0), (0, "Rh", 5.1, .12, 2.5, 0),
    (1, "Rh", -1.6, .07, 2.5, 0), (1, "Rh", 0.2, .07, 2.5, 0),
    (2, "Rh", -5.2, .12, 2.5, 0), (2, "Rh", -0.4, .07, 2.5, 0),
    (3, "Rh", -3.4, .06, 3, 1),
    (3, "Rh", 2.0, .12, 2.5, 0), (3, "Rh", 2.8, .07, 2, 0),
    (4, "Rh", -2.9, .06, 3, 1),
    (4, "Rh", -5.1, .12, 2.5, 0),
    (5, "Rh", -6.9, .12, 2.5, 0), (5, "Rh", 0.6, .07, 2.5, 0), (5, "Rh", 3.3, .07, 2.5, 0),
]
ppA = [
    (0, "E", -7.4, .37, 4.5, 1), (0, "G", 2.1, .29, 4.5, 1), (0, "G", 3.4, .34, 4.5, 1),
    (0, "E", 2.7, .39, 3.5, 1), (0, "G", 6.7, .32, 3, 1), (0, "Bd", 2.7, .75, 3.5, 1),
    (0, "Bd", 4.1, .73, 3.5, 1), (0, "Bd", 5.4, .75, 3.5, 1), (0, "Ar", 2.1, .79, 2.5, 1),
    (0, "O", -5.2, .94, 4, 1), (0, "O", -2.7, .93, 4, 1), (0, "O", 2.3, .89, 3.5, 1),
    (0, "O", 4.1, .93, 3.5, 1),
    (0, "Ps", -3.0, .36, 3, 0), (0, "Ps", -1.2, .29, 3, 0), (0, "Ps", -0.4, .18, 3, 0),
    (0, "Ps", 0.5, .39, 3, 0), (0, "Bd", -1.2, .71, 3.5, 0), (0, "O", 0.1, .79, 3.5, 0),
    (0, "O", -2.1, .82, 3.5, 0), (0, "O", 1.0, .86, 3.5, 0), (0, "Bd", -0.4, .64, 3.5, 0),
    (0, "O", -0.8, .9, 3.5, 0), (0, "Bd", 0.6, .7, 3.5, 0),
    (1, "E", -7.4, .37, 4.5, 1), (1, "E", -2.9, .36, 3, 1), (1, "G", 2.8, .29, 5, 1),
    (1, "G", 3.7, .32, 4.5, 1), (1, "E", 3.3, .39, 3.5, 1), (1, "G", 6.8, .32, 3, 1),
    (1, "Bd", -2.7, .75, 4.5, 1), (1, "Bd", 2.8, .75, 3.5, 1), (1, "Bd", 4.1, .74, 3.5, 1),
    (1, "Bd", 5.2, .75, 3, 1), (1, "Ar", 2.2, .79, 2.5, 1), (1, "O", -5.7, .94, 4, 1),
    (1, "O", -3.4, .91, 4, 1), (1, "O", 3.3, .93, 3.5, 1),
    (1, "Ps", -1.6, .32, 3, 0), (1, "Ps", -0.7, .21, 3, 0), (1, "Ps", 0.6, .36, 3, 0),
    (1, "Bd", -1.6, .79, 3.5, 0), (1, "O", -0.3, .71, 3.5, 0), (1, "O", 1.5, .82, 3.5, 0),
    (1, "O", 0.2, .89, 3.5, 0), (1, "Bd", -0.9, .66, 3.5, 0),
    (2, "E", 2.1, .34, 5, 1), (2, "Ps", 3.0, .57, 3, 1), (2, "O", -3.2, .87, 3.5, 1),
    (2, "O", 3.2, .89, 4, 1), (2, "O", 4.5, .93, 3.5, 1), (2, "O", 1.9, .94, 3.5, 1),
    (2, "Ps", -2.1, .39, 3, 0), (2, "Ps", -0.8, .25, 3, 0), (2, "Ps", 0.5, .36, 3, 0),
    (2, "Bd", -0.4, .75, 3.5, 0), (2, "O", 0.9, .86, 3.5, 0), (2, "O", -1.2, .86, 3.5, 0),
    (3, "G", 4.2, .29, 4.5, 1), (3, "G", 5.2, .27, 4, 1), (3, "Ps", -2.7, .57, 3, 1),
    (3, "O", -3.6, .8, 4.5, 1), (3, "O", -4.9, .94, 3.5, 1), (3, "Bd", 2.4, .73, 4, 1),
    (3, "Bd", 3.3, .75, 3.5, 1), (3, "Bd", 4.4, .75, 3.5, 1), (3, "Ar", 6.6, .77, 3, 1),
    (3, "Ac", 7.4, .76, 3.5, 1), (3, "O", 8.6, .79, 3, 1), (3, "O", 4.6, .91, 3.5, 1),
    (3, "O", 2.9, .89, 3.5, 1),
    (3, "Ps", -0.3, .32, 3, 0), (3, "Ps", 1.1, .21, 3, 0), (3, "Ps", 2.0, .39, 3, 0),
    (3, "Ps", -2.0, .36, 3, 0), (3, "Bd", -0.7, .79, 3.5, 0), (3, "O", 0.6, .71, 3.5, 0),
    (3, "O", -1.6, .86, 3.5, 0), (3, "Bd", 1.2, .82, 3.5, 0),
    (4, "E", 4.8, .32, 3, 1), (4, "Ps", -3.1, .57, 3, 1), (4, "Bd", -7.5, .75, 4.5, 1),
    (4, "O", -3.6, .8, 4, 1), (4, "O", -4.7, .94, 3.5, 1), (4, "O", 3.3, .89, 3.5, 1),
    (4, "O", 5.1, .93, 3.5, 1), (4, "Ar", 5.1, .79, 2.5, 1), (4, "Ac", 5.9, .77, 3.5, 1),
    (4, "Ps", -2.0, .32, 3, 0), (4, "Ps", -1.2, .25, 3, 0), (4, "Ps", 0.2, .39, 3, 0),
    (4, "Bd", 0.2, .75, 3.5, 0), (4, "O", 1.9, .82, 3.5, 0), (4, "O", -1.2, .86, 3.5, 0),
    (5, "G", -3.6, .27, 3.5, 1), (5, "E", -4.7, .37, 3.5, 1), (5, "E", -3.6, .37, 3.5, 1),
    (5, "E", -2.3, .39, 4.5, 1), (5, "E", 2.6, .34, 3, 1), (5, "Bd", -7.4, .75, 4.5, 1),
    (5, "Bd", -4.7, .75, 3.5, 1), (5, "Bd", -3.4, .75, 3.5, 1), (5, "Bd", -2.0, .75, 3.5, 1),
    (5, "O", -5.6, .89, 3.5, 1), (5, "O", -3.8, .93, 3.5, 1), (5, "O", -2.5, .89, 3.5, 1),
    (5, "F", 3.7, .75, 3, 1),
    (5, "Ps", -1.2, .39, 3, 0), (5, "Ps", 0.6, .29, 3, 0), (5, "Bd", -0.3, .79, 3.5, 0),
    (5, "O", 1.1, .86, 3.5, 0), (5, "O", -1.0, .7, 3.5, 0),
]
ppK1 = [
    (0, "Rh", -0.8, .05, 3, 0), (0, "Ps", 1.0, .36, 3, 0), (0, "Ps", 1.0, .61, 3, 0),
    (0, "O", -1.2, .86, 3, 0),
    (1, "Rh", -0.7, .05, 3, 0), (1, "Ps", 0.2, .46, 3, 0), (1, "Ps", -1.6, .61, 3, 0),
    (1, "O", 0.6, .86, 3, 0),
    (2, "Ps", -2.8, .62, 3.5, 1),
    (2, "Rh", -0.4, .05, 3, 0), (2, "Ps", -0.4, .43, 3, 0), (2, "O", 1.4, .82, 3, 0),
    (3, "A", -2.4, .04, 2.5, 1), (3, "E", -3.6, .37, 3, 1), (3, "Ps", 3.3, .54, 2.5, 1),
    (3, "Ps", 2.0, .61, 3, 0), (3, "O", 0.6, .86, 3, 0), (3, "Rh", -0.7, .05, 3, 0),
    (4, "Ps", -1.2, .36, 3, 0), (4, "Ps", -1.2, .61, 3, 0), (4, "Rh", -1.6, .05, 3, 0),
    (5, "Ps", -4.7, .54, 2.5, 1), (5, "Ps", -2.7, .62, 3.5, 1),
    (5, "Ps", 2.6, .36, 3, 0), (5, "O", 1.1, .82, 3, 0), (5, "Rh", 0.6, .05, 3, 0),
]
gene_points = [phoB, phoR, phoU, pstA, pstB, pstC, pstS, nptA, pit,
               acp5, phoA, phoD, phnC, phnD, phnE, ppA, ppK1]

records = []
for g, pts in zip(genes, gene_points):
    for col, tax, fc, y, cpm, sig in pts:
        records.append({"gene": g, "col": col, "taxon": taxa[tax], "logFC": fc,
                        "y": y, "logCPM": cpm, "sig": sig})
df = pd.DataFrame(records)
palette = {taxa[k]: v for k, v in colors.items()}

sns.set_style("white")
plt.rcParams["font.family"] = ["Liberation Sans", "DejaVu Sans"]

W, H = 800, 1070
fig = plt.figure(figsize=(W / 100, H / 100), dpi=100)


def fx(x):
    return x / W


def fy(y):
    return 1 - y / H


SIZES, NORM = (20, 150), (0.5, 6.5)


def marker_pt(v):
    s = SIZES[0] + (SIZES[1] - SIZES[0]) * (v - NORM[0]) / (NORM[1] - NORM[0])
    return s ** 0.5


def box(x0, y0, x1, y1, text="", weight="bold", style="normal", size=9.5, edge="#555555"):
    fig.add_artist(Rectangle((fx(x0), fy(y1)), (x1 - x0) / W, (y1 - y0) / H,
                             transform=fig.transFigure, facecolor="white",
                             edgecolor=edge, linewidth=0.9))
    if text:
        fig.text(fx((x0 + x1) / 2), fy((y0 + y1) / 2), text, ha="center", va="center",
                 fontsize=size, fontweight=weight, fontstyle=style, color="#1a1a1a",
                 linespacing=1.1)


left0, colstep, pw = 4.5, 111.1, 106
top0, rowstep, ph = 157, 51.45, 46.5

for i, g in enumerate(genes):
    y0 = top0 + rowstep * i
    for j in range(6):
        x0 = left0 + colstep * j
        ax = fig.add_axes([fx(x0), fy(y0 + ph), pw / W, ph / H])
        ax.axvspan(-11, 0, color="#c8c8c8", zorder=0, lw=0)
        ax.axvspan(0, 11, color="#e2e2e2", zorder=0, lw=0)
        ax.axvline(0, color="black", lw=1.2, zorder=1)
        sub = df[(df.gene == g) & (df.col == j)]
        for sig, alpha in [(0, 0.16), (1, 1.0)]:
            d = sub[sub.sig == sig]
            if len(d):
                sns.scatterplot(data=d, x="logFC", y="y", hue="taxon", palette=palette,
                                size="logCPM", sizes=SIZES, size_norm=NORM,
                                edgecolor="black", linewidth=0.8, alpha=alpha,
                                legend=False, ax=ax, zorder=2 + sig)
        ax.set_xlim(-11, 11)
        ax.set_ylim(1, 0)
        ax.set_xlabel("")
        ax.set_ylabel("")
        ax.set_yticks([])
        ax.set_xticks([-10, -5, 0, 5, 10])
        for sp in ax.spines.values():
            sp.set_color("#777777")
            sp.set_linewidth(0.9)
        if j == 0:
            ax.spines["left"].set_color("#333333")
            ax.spines["left"].set_linewidth(3)
        if i == len(genes) - 1:
            ax.tick_params(axis="x", bottom=True, length=3, width=0.8, color="#4d4d4d",
                           labelsize=10, labelcolor="#4d4d4d", labelrotation=-90, pad=1)
            ax.set_xticklabels(["-10", "-5", "0", "5", "10"])
        else:
            ax.tick_params(axis="x", bottom=False, labelbottom=False)
    # gene label strip on the right
    box(666, y0, 708, y0 + ph, g, weight="normal", style="italic", size=9.5, edge="#777777")

# group strips
for label, r0, r1 in groups:
    ya = top0 + rowstep * r0
    yb = top0 + rowstep * r1 + ph
    box(708, ya, 799.5, yb, label, size=9.5, edge="#777777")
    fig.add_artist(Line2D([fx(708), fx(708)], [fy(ya), fy(yb)], transform=fig.transFigure,
                          color="black", lw=1.1))

# column strips
for t, tname in enumerate(times):
    xa = left0 + colstep * 3 * t
    box(xa, 107, xa + colstep * 2 + pw, 131, tname)
    for c, cname in enumerate(contrasts):
        xc = left0 + colstep * (3 * t + c)
        box(xc, 132.5, xc + pw, 156.5, cname)

fig.text(fx(335), fy(1062), "(logFC)", ha="center", va="center", fontsize=10,
         fontweight="bold", color="#1a1a1a")

# colour legend (4 columns, row-wise reading order)
ncol = 4
nrow = 4
order_cm = []
for c in range(ncol):
    for r in range(nrow):
        k = r * ncol + c
        if k < len(legend_order):
            order_cm.append(legend_order[k])
handles = [Line2D([], [], marker="o", linestyle="", markersize=8,
                  markerfacecolor=colors[k], markeredgecolor="black", markeredgewidth=0.8)
           for k in order_cm]
fig.legend(handles, [taxa[k] for k in order_cm], ncol=ncol, loc="upper center",
           bbox_to_anchor=(fx(335.5), fy(19.5)), frameon=False, fontsize=9,
           handlelength=1.0, handletextpad=0.5, columnspacing=0.68, labelspacing=0.76,
           borderpad=0, borderaxespad=0)

# size legend
fig.text(fx(317), fy(9), "logCPM", ha="left", va="center", fontsize=9, color="#1a1a1a")
size_handles = [Line2D([], [], marker="o", linestyle="", markersize=marker_pt(v),
                       markerfacecolor="none", markeredgecolor="black", markeredgewidth=0.8)
                for v in cpm_legend]
fig.legend(size_handles, [str(v) for v in cpm_legend], ncol=3, loc="center left",
           bbox_to_anchor=(fx(367), fy(9)), frameon=False, fontsize=9,
           handlelength=1.0, handletextpad=0.35, columnspacing=0.7,
           borderpad=0, borderaxespad=0)

fig.savefig("out.png", dpi=100)
